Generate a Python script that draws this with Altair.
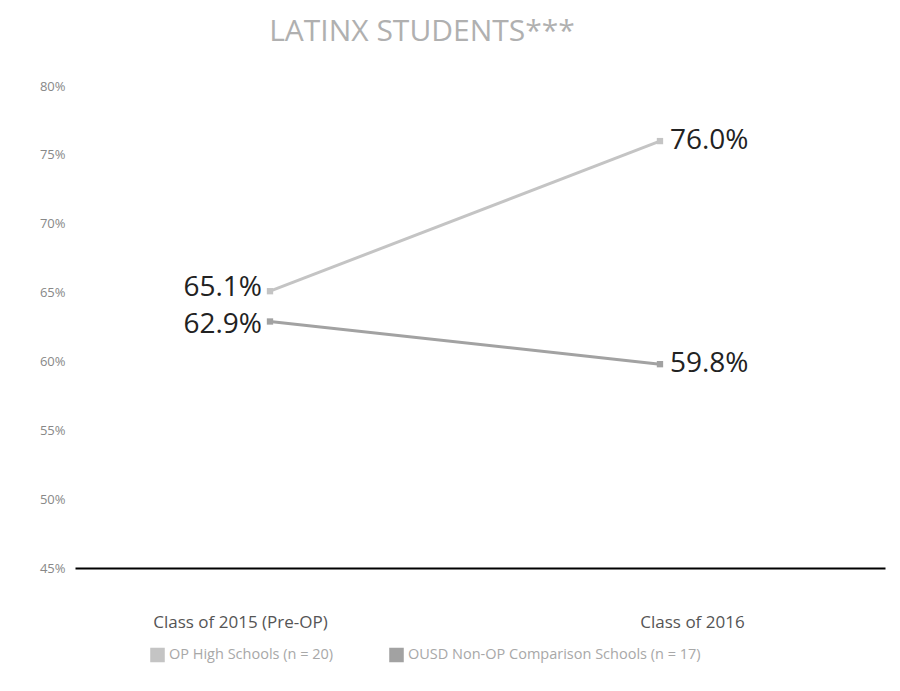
import altair as alt
import pandas as pd

categories = ["Class of 2015 (Pre-OP)", "Class of 2016"]
series = ["OP High Schools (n = 20)", "OUSD Non-OP Comparison Schools (n = 17)"]
op_values = [65.1, 76.0]
ousd_values = [62.9, 59.8]
y_ticks = [45, 50, 55, 60, 65, 70, 75, 80]
colors = ["#c4c4c4", "#a2a2a2"]

rows = []
for s, vals in zip(series, [op_values, ousd_values]):
    for i, (c, v) in enumerate(zip(categories, vals)):
        rows.append({"series": s, "category": c, "idx": i, "value": v,
                     "label": f"{v:.1f}%"})
df = pd.DataFrame(rows)

label_expr = " : ".join(
    [f"datum.value == {i} ? '{c}'" for i, c in enumerate(categories)] + ["''"]
)

x = alt.X("idx:Q",
          scale=alt.Scale(domain=[-0.5, 1.577], nice=False, zero=False),
          axis=alt.Axis(values=[0, 1], labelExpr=label_expr, title=None,
                        grid=False, ticks=False, domainColor="#000000",
                        domainWidth=2, labelFontSize=17, labelColor="#555555",
                        labelFont="Open Sans", labelPadding=46,
                        labelOffset={"condition": {"test": "datum.value == 0", "value": -30},
                                     "value": 32}))
y = alt.Y("value:Q",
          scale=alt.Scale(domain=[45, 80], nice=False, zero=False),
          axis=alt.Axis(values=y_ticks, labelExpr="datum.value + '%'",
                        title=None, grid=False, ticks=False, domain=False,
                        labelFontSize=13, labelColor="#888888",
                        labelFont="Open Sans", labelPadding=10))
color = alt.Color("series:N",
                  scale=alt.Scale(domain=series, range=colors),
                  legend=alt.Legend(title=None, orient="none", legendX=75,
                                    legendY=561, direction="horizontal",
                                    symbolType="square", symbolSize=170,
                                    labelFontSize=14.5, labelColor="#a8a8a8",
                                    labelFont="Open Sans", labelLimit=400,
                                    columnPadding=52))

base = alt.Chart(df)
lines = base.mark_line(strokeWidth=3).encode(x=x, y=y, color=color, detail="series:N")
points = base.mark_point(shape="square", filled=True, size=40, opacity=1).encode(
    x=x, y=y, color=alt.Color("series:N", scale=alt.Scale(domain=series, range=colors), legend=None))
left_top = base.transform_filter(f"datum.idx == 0 && datum.series == '{series[0]}'").mark_text(
    align="right", baseline="middle", dx=-8, dy=-3, fontSize=28, font="Open Sans",
    color="#222222").encode(x=x, y=y, text="label:N")
left_bot = base.transform_filter(f"datum.idx == 0 && datum.series == '{series[1]}'").mark_text(
    align="right", baseline="middle", dx=-8, dy=4, fontSize=28, font="Open Sans",
    color="#222222").encode(x=x, y=y, text="label:N")
right_text = base.transform_filter("datum.idx == 1").mark_text(
    align="left", baseline="middle", dx=10, fontSize=28, font="Open Sans",
    color="#222222").encode(x=x, y=y, text="label:N")

chart = alt.layer(lines, points, left_top, left_bot, right_text).properties(
    width=810, height=482,
    title=alt.TitleParams("LATINX STUDENTS***", fontSize=30, font="Open Sans",
                          fontWeight="normal", color="#b0b0b0", anchor="middle",
                          dx=-58, offset=33),
    autosize=alt.AutoSizeParams(type="none"),
    padding={"left": 67, "top": 78, "right": 7, "bottom": 115},
).configure_view(stroke=None)

chart.save("out.html", embed_options={"renderer": "svg", "actions": False})
